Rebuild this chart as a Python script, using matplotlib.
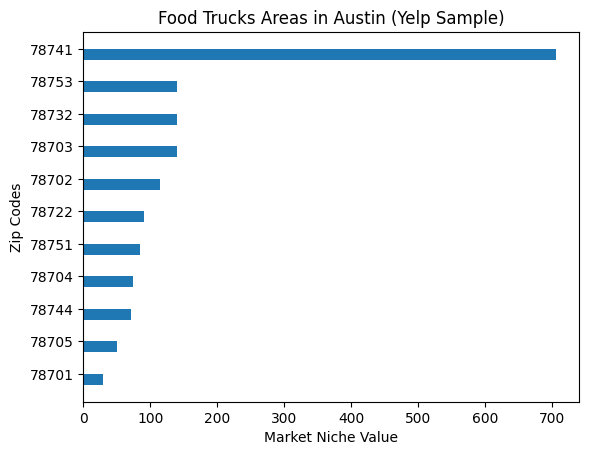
import matplotlib
matplotlib.use("Agg")
import matplotlib.pyplot as plt

# zip codes, bottom to top
zip_codes = ['78701', '78705', '78744', '78704', '78751', '78722',
             '78702', '78703', '78732', '78753', '78741']
niche_values = [29, 50, 71, 74, 84, 90, 115, 140, 140, 140, 705]

fig, ax = plt.subplots(figsize=(6.4, 4.8), dpi=100)
pos = list(range(len(zip_codes)))
ax.barh(pos, niche_values, height=-0.34, align='edge', color='#1f77b4')
ax.set_yticks(pos)
ax.set_yticklabels(zip_codes)
ax.set_xlabel('Market Niche Value')
ax.set_ylabel('Zip Codes')
ax.set_title('Food Trucks Areas in Austin (Yelp Sample)')

fig.savefig('out.png', dpi=100, bbox_inches='tight')
